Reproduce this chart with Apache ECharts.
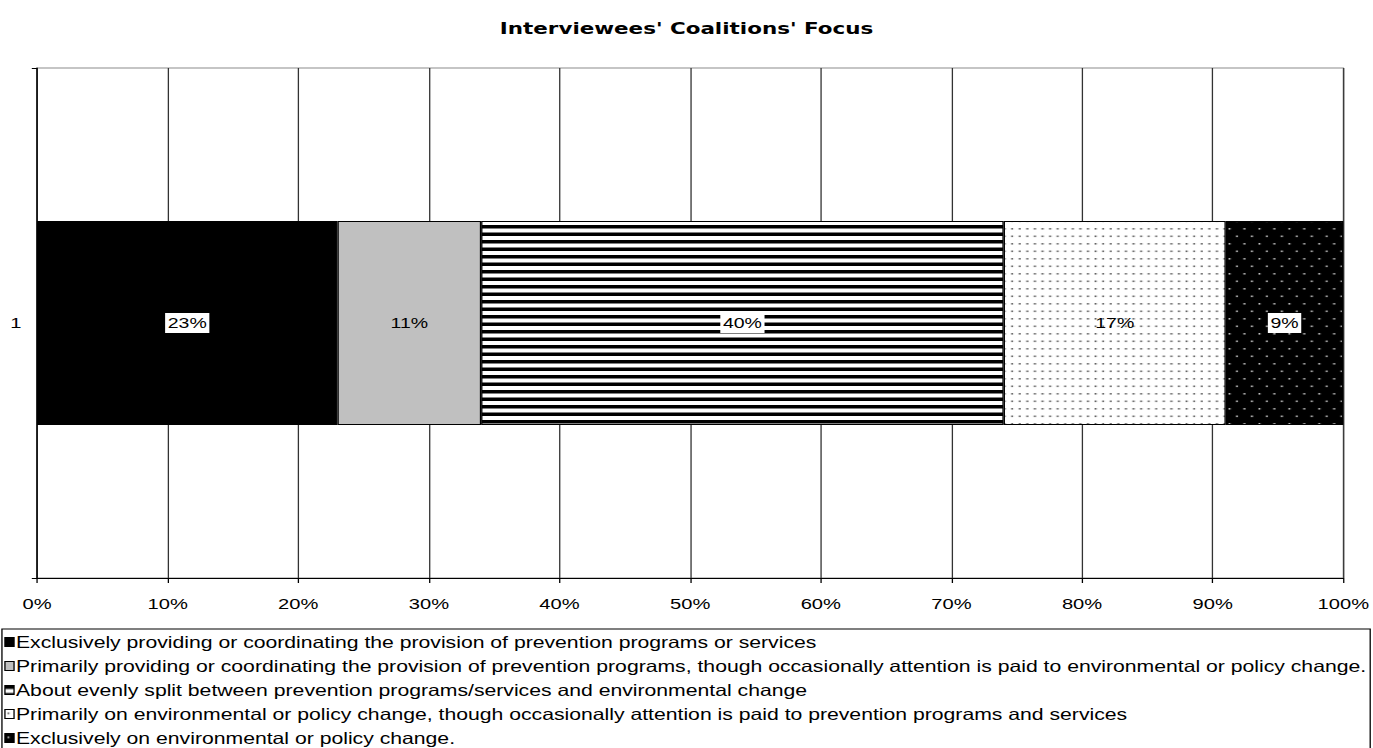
<!DOCTYPE html>
<html>
<head>
<meta charset="utf-8">
<script src="https://cdn.jsdelivr.net/npm/echarts@6/dist/echarts.min.js"></script>
<style>
  html, body { margin: 0; padding: 0; background: #fff; overflow: hidden; }
  /* The figure is laid out on a narrower canvas and widened to the page width,
     which gives the broad letterforms of the printed version. */
  #chart { width: 1056px; height: 748px; transform: scaleX(1.30019); transform-origin: 0 0; }
</style>
</head>
<body>
<div id="chart"></div>
<script>
// Survey question: what the interviewees' coalitions focus on (share of respondents, %)
const chartTitle = "Interviewees' Coalitions' Focus";
const categories = ['1'];
const seriesNames = [
  'Exclusively providing or coordinating the provision of prevention programs or services',
  'Primarily providing or coordinating the provision of prevention programs, though occasionally attention is paid to environmental or policy change.',
  'About evenly split between prevention programs/services and environmental change',
  'Primarily on environmental or policy change, though occasionally attention is paid to prevention programs and services',
  'Exclusively on environmental or policy change.'
];
const exclusivelyPrograms = [23];
const primarilyPrograms = [11];
const evenlySplit = [40];
const primarilyPolicy = [17];
const exclusivelyPolicy = [9];
const xTicks = [0, 10, 20, 30, 40, 50, 60, 70, 80, 90, 100];

// Hatch / dot fills drawn on small tiles
function tile(w, h, draw) {
  const c = document.createElement('canvas');
  c.width = w; c.height = h;
  draw(c.getContext('2d'));
  return { image: c, repeat: 'repeat', imageWidth: w, imageHeight: h };
}
const stripes = tile(16, 15, g => {
  g.fillStyle = '#fff'; g.fillRect(0, 0, 16, 15);
  g.fillStyle = '#000';
  g.fillRect(0, 0, 16, 3.5);
  g.fillRect(0, 7.5, 16, 3.5);
});
const lightDots = tile(35, 15, g => {
  g.fillStyle = '#fff'; g.fillRect(0, 0, 35, 15);
  g.fillStyle = '#444';
  for (let i = 0; i < 6; i++) {
    g.fillRect(2 + i * 35 / 6, 3, 1.3, 1.6);
    g.fillRect(2 + i * 35 / 6, 10.5, 1.3, 1.6);
  }
});
const darkDots = tile(23, 15, g => {
  g.fillStyle = '#000'; g.fillRect(0, 0, 23, 15);
  g.fillStyle = '#ddd';
  [[2, 3], [13.5, 3], [7.75, 10.5], [19.25, 10.5]].forEach(([x, y]) => g.fillRect(x, y, 1.3, 1.6));
});

const fills = ['#000000', '#c0c0c0', stripes, lightDots, darkDots];
const values = [exclusivelyPrograms, primarilyPrograms, evenlySplit, primarilyPolicy, exclusivelyPolicy];
const boxedLabel = [true, false, true, false, true];

const FONT = 'Liberation Sans, Arial, sans-serif';

const chart = echarts.init(document.getElementById('chart'), null, { renderer: 'svg' });
chart.setOption({
  animation: false,
  backgroundColor: '#fff',
  title: {
    text: chartTitle,
    left: 'center',
    top: 15,
    textStyle: { fontFamily: 'DejaVu Sans', fontSize: 16.5, fontWeight: 'bold', color: '#000' }
  },
  grid: {
    left: 28.46, right: 21.5, top: 68, bottom: 170,
    show: true, borderColor: '#8c8c8c', borderWidth: 1
  },
  xAxis: {
    type: 'value',
    min: xTicks[0],
    max: xTicks[xTicks.length - 1],
    interval: 10,
    axisLine: { show: true, lineStyle: { color: '#000', width: 1 } },
    axisTick: { show: true, length: 5, lineStyle: { color: '#000' } },
    axisLabel: { formatter: '{value}%', color: '#000', fontFamily: FONT, fontSize: 15.5, margin: 18 },
    splitLine: { show: true, lineStyle: { color: '#333', width: 1 } }
  },
  yAxis: {
    type: 'category',
    data: categories,
    axisLine: { show: true, lineStyle: { color: '#000', width: 1 } },
    axisTick: { show: true, length: 4, lineStyle: { color: '#000' } },
    axisLabel: { color: '#000', fontFamily: FONT, fontSize: 15.5, margin: 12 },
    splitLine: { show: false }
  },
  legend: {
    orient: 'vertical',
    left: 1.5,
    top: 629,
    height: 140,
    padding: [5, 3.5, 5, 1.8],
    itemGap: 8,
    itemWidth: 7,
    itemHeight: 9,
    icon: 'rect',
    borderColor: '#000',
    borderWidth: 1,
    borderRadius: 0,
    itemStyle: { borderColor: '#000', borderWidth: 1 },
    textStyle: { fontFamily: FONT, fontSize: 16.3, lineHeight: 16, color: '#000', padding: [0, 0, 0, -3.5] },
    data: seriesNames
  },
  series: seriesNames.map((name, i) => ({
    name: name,
    type: 'bar',
    stack: 'focus',
    barWidth: '40%',
    data: values[i],
    itemStyle: { color: fills[i], borderColor: '#000', borderWidth: 1 },
    label: {
      show: true,
      position: 'inside',
      formatter: '{c}%',
      fontFamily: FONT,
      fontSize: 15,
      color: '#000',
      backgroundColor: boxedLabel[i] ? '#fff' : 'transparent',
      padding: [3, 2, 2, 2]
    }
  }))
});
</script>
</body>
</html>
